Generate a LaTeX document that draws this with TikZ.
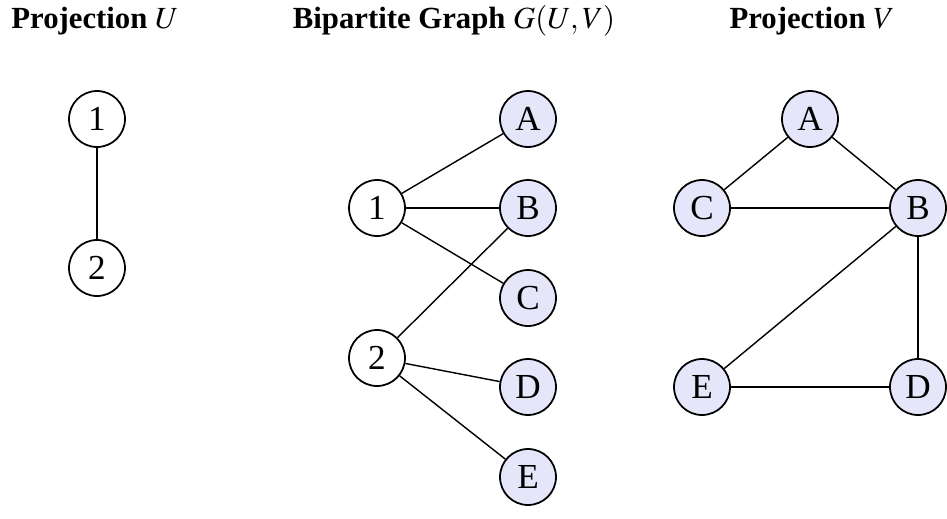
\documentclass[tikz,border=0pt]{standalone}
\usepackage{mathptmx}
\usepackage{fontspec}
\setmainfont{Liberation Serif}
\usetikzlibrary{positioning}
\definecolor{vfill}{RGB}{230,230,250}

\begin{document}
\begin{tikzpicture}[
  x=0.02cm, y=-0.02cm,
  unode/.style={draw, circle, line width=1pt, fill=white, minimum size=1.12cm, inner sep=0pt, font=\fontsize{20}{22}\selectfont},
  vnode/.style={unode, fill=vfill},
  title/.style={font=\fontsize{17.5}{20}\selectfont\bfseries, anchor=center},
  edge/.style={line width=0.8pt}
]
\useasboundingbox (0,0) rectangle (947,518);

% Titles
\node[title] (tu) at (95,21) {Projection $U$};
\node[title] (tg) at (454,21) {Bipartite Graph $G(U,V)$};
\node[title] (tv) at (812,21) {Projection $V$};

% Projection U
\node[unode] (pu1) at (97,119) {1};
\node[unode] (pu2) at (97,268) {2};
\draw[edge] (pu1) -- (pu2);

% Bipartite graph
\node[unode] (u1) at (377,208) {1};
\node[unode] (u2) at (377,358) {2};
\node[vnode] (va) at (528,119) {A};
\node[vnode] (vb) at (528,208) {B};
\node[vnode] (vc) at (528,298) {C};
\node[vnode] (vd) at (528,387) {D};
\node[vnode] (ve) at (528,477) {E};

\draw[edge] (u1) -- (va);
\draw[edge] (u1) -- (vb);
\draw[edge] (u1) -- (vc);
\draw[edge] (u2) -- (vb);
\draw[edge] (u2) -- (vd);
\draw[edge] (u2) -- (ve);

% Projection V
\node[vnode] (pa) at (810,119) {A};
\node[vnode] (pc) at (702,208) {C};
\node[vnode] (pb) at (918,208) {B};
\node[vnode] (pe) at (702,387) {E};
\node[vnode] (pd) at (918,387) {D};

\draw[edge] (pa) -- (pc);
\draw[edge] (pa) -- (pb);
\draw[edge] (pc) -- (pb);
\draw[edge] (pb) -- (pe);
\draw[edge] (pb) -- (pd);
\draw[edge] (pe) -- (pd);

\end{tikzpicture}
\end{document}
